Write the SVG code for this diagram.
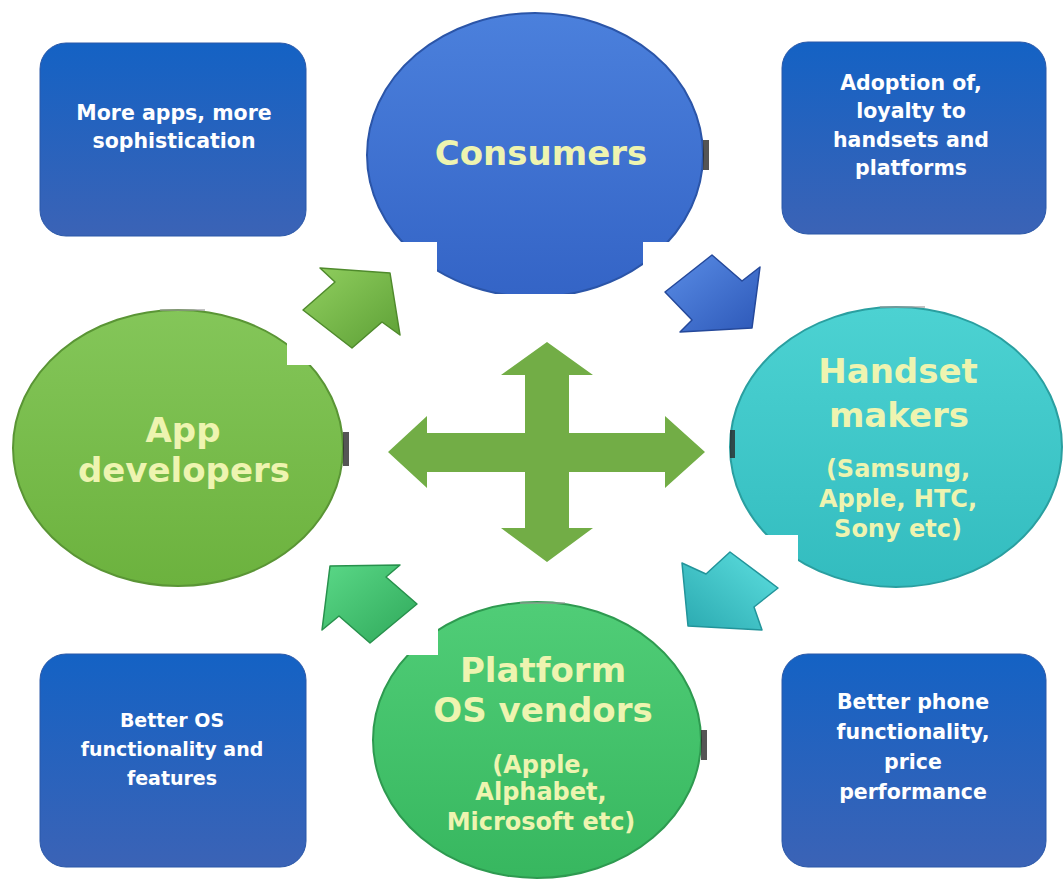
<svg xmlns="http://www.w3.org/2000/svg" width="1063" height="883" viewBox="0 0 1063 883">
<defs>
<style>
.box{stroke:#2a58a8;stroke-width:1}
.bt{font-family:"DejaVu Sans",Verdana,sans-serif;font-weight:bold;fill:#ffffff;text-anchor:middle}
.ct{font-family:"DejaVu Sans",Verdana,sans-serif;font-weight:bold;fill:#eef4b0;text-anchor:middle}
.big{font-size:34px}
.sub{font-size:24px}
.tick{fill:#2a2a2a;opacity:0.8}
.ridge{stroke:#9a9a9a;stroke-width:2;opacity:0.6}
</style>
<linearGradient id="gBox" x1="0" y1="0" x2="0" y2="1">
<stop offset="0" stop-color="#1462c4"/><stop offset="1" stop-color="#3b63b6"/>
</linearGradient>
<linearGradient id="gCons" x1="0" y1="0" x2="0" y2="1">
<stop offset="0" stop-color="#4b80dc"/><stop offset="1" stop-color="#3464c6"/>
</linearGradient>
<linearGradient id="gApp" x1="0" y1="0" x2="0" y2="1">
<stop offset="0" stop-color="#84c659"/><stop offset="1" stop-color="#6cb23e"/>
</linearGradient>
<linearGradient id="gHand" x1="0" y1="0" x2="0" y2="1">
<stop offset="0" stop-color="#4cd2d2"/><stop offset="1" stop-color="#33bcbf"/>
</linearGradient>
<linearGradient id="gPlat" x1="0" y1="0" x2="0" y2="1">
<stop offset="0" stop-color="#50cd77"/><stop offset="1" stop-color="#37b75f"/>
</linearGradient>
<linearGradient id="aGreen" x1="0" y1="0" x2="1" y2="1">
<stop offset="0" stop-color="#92d060"/><stop offset="1" stop-color="#5c9f35"/>
</linearGradient>
<linearGradient id="aBlue" x1="0" y1="0" x2="1" y2="1">
<stop offset="0" stop-color="#5a8de6"/><stop offset="1" stop-color="#2d58b8"/>
</linearGradient>
<linearGradient id="aCyan" x1="1" y1="0" x2="0" y2="1">
<stop offset="0" stop-color="#5ee0e0"/><stop offset="1" stop-color="#2aa9b0"/>
</linearGradient>
<linearGradient id="aEm" x1="1" y1="1" x2="0" y2="0">
<stop offset="0" stop-color="#2fa85a"/><stop offset="1" stop-color="#5ad887"/>
</linearGradient>
<clipPath id="cCons"><polygon points="360,0 720,0 720,242 643,242 643,294 437,294 437,242 360,242"/></clipPath>
<clipPath id="cApp"><polygon points="0,300 287,300 287,365 360,365 360,600 0,600"/></clipPath>
<clipPath id="cHand"><polygon points="720,290 1063,290 1063,600 798,600 798,535 720,535"/></clipPath>
<clipPath id="cPlat"><polygon points="438,590 710,590 710,883 360,883 360,655 438,655"/></clipPath>
</defs>
<rect width="1063" height="883" fill="#ffffff"/>

<g id="box-more-apps">
<rect class="box" x="40" y="43" width="266" height="193" rx="26" fill="url(#gBox)"/>
<text class="bt" font-size="20.5"><tspan x="174" y="120">More apps, more</tspan><tspan x="174" y="148">sophistication</tspan></text>
</g>
<g id="box-adoption">
<rect class="box" x="782" y="42" width="264" height="192" rx="26" fill="url(#gBox)"/>
<text class="bt" font-size="20.5"><tspan x="911" y="90">Adoption of,</tspan><tspan x="911" y="118">loyalty to</tspan><tspan x="911" y="147">handsets and</tspan><tspan x="911" y="175">platforms</tspan></text>
</g>
<g id="box-better-os">
<rect class="box" x="40" y="654" width="266" height="213" rx="26" fill="url(#gBox)"/>
<text class="bt" font-size="19"><tspan x="172" y="727">Better OS</tspan><tspan x="172" y="756">functionality and</tspan><tspan x="172" y="785">features</tspan></text>
</g>
<g id="box-better-phone">
<rect class="box" x="782" y="654" width="264" height="213" rx="26" fill="url(#gBox)"/>
<text class="bt" font-size="20.5"><tspan x="913" y="709">Better phone</tspan><tspan x="913" y="739">functionality,</tspan><tspan x="913" y="769">price</tspan><tspan x="913" y="799">performance</tspan></text>
</g>

<g id="consumers">
<ellipse cx="535" cy="155" rx="168" ry="142" fill="url(#gCons)" stroke="#2b55a8" stroke-width="2" clip-path="url(#cCons)"/>
<rect class="tick" x="703" y="140" width="6" height="30"/>
<text class="ct big" x="541" y="165">Consumers</text>
</g>
<g id="app-developers">
<ellipse cx="178" cy="448" rx="165" ry="138" fill="url(#gApp)" stroke="#5a9535" stroke-width="2" clip-path="url(#cApp)"/>
<line class="ridge" x1="160" y1="310" x2="205" y2="310"/>
<rect class="tick" x="343" y="432" width="6" height="34"/>
<text class="ct big"><tspan x="183" y="442">App</tspan><tspan x="184" y="482">developers</tspan></text>
</g>
<g id="handset-makers">
<ellipse cx="896" cy="447" rx="166" ry="140" fill="url(#gHand)" stroke="#2a9fa0" stroke-width="2" clip-path="url(#cHand)"/>
<line class="ridge" x1="880" y1="307" x2="925" y2="307"/>
<rect class="tick" x="730" y="430" width="5" height="28"/>
<text class="ct big"><tspan x="898" y="383">Handset</tspan><tspan x="899" y="427">makers</tspan></text>
<text class="ct sub"><tspan x="898" y="477">(Samsung,</tspan><tspan x="898" y="507">Apple, HTC,</tspan><tspan x="898" y="537">Sony etc)</tspan></text>
</g>
<g id="platform-os-vendors">
<ellipse cx="537" cy="740" rx="164" ry="138" fill="url(#gPlat)" stroke="#2e9a50" stroke-width="2" clip-path="url(#cPlat)"/>
<line class="ridge" x1="520" y1="603" x2="565" y2="603"/>
<rect class="tick" x="701" y="730" width="6" height="30"/>
<text class="ct big"><tspan x="543" y="682">Platform</tspan><tspan x="543" y="722">OS vendors</tspan></text>
<text class="ct sub"><tspan x="541" y="773">(Apple,</tspan><tspan x="541" y="800">Alphabet,</tspan><tspan x="541" y="830">Microsoft etc)</tspan></text>
</g>

<g id="connectors">
<polygon points="390,273 320,268 335,282 303,310 352,348 382,322 400,335" fill="url(#aGreen)" stroke="#4f8a2c" stroke-width="1.5" stroke-linejoin="round"/>
<polygon points="752,328 680,332 692,320 665,292 712,255 742,281 760,267" fill="url(#aBlue)" stroke="#24489a" stroke-width="1.5" stroke-linejoin="round"/>
<polygon points="688,626 682,563 706,574 730,552 778,588 754,607 762,630" fill="url(#aCyan)" stroke="#22949a" stroke-width="1.5" stroke-linejoin="round"/>
<polygon points="330,566 400,565 386,577 417,604 370,643 339,616 322,630" fill="url(#aEm)" stroke="#27914c" stroke-width="1.5" stroke-linejoin="round"/>
<polygon points="547,342 593,375 569,375 569,433 665,433 665,416 705,452 665,488 665,472 569,472 569,528 593,528 547,562 501,528 525,528 525,472 427,472 427,488 388,452 427,416 427,433 525,433 525,375 501,375" fill="#72ad46"/>
</g>
</svg>
